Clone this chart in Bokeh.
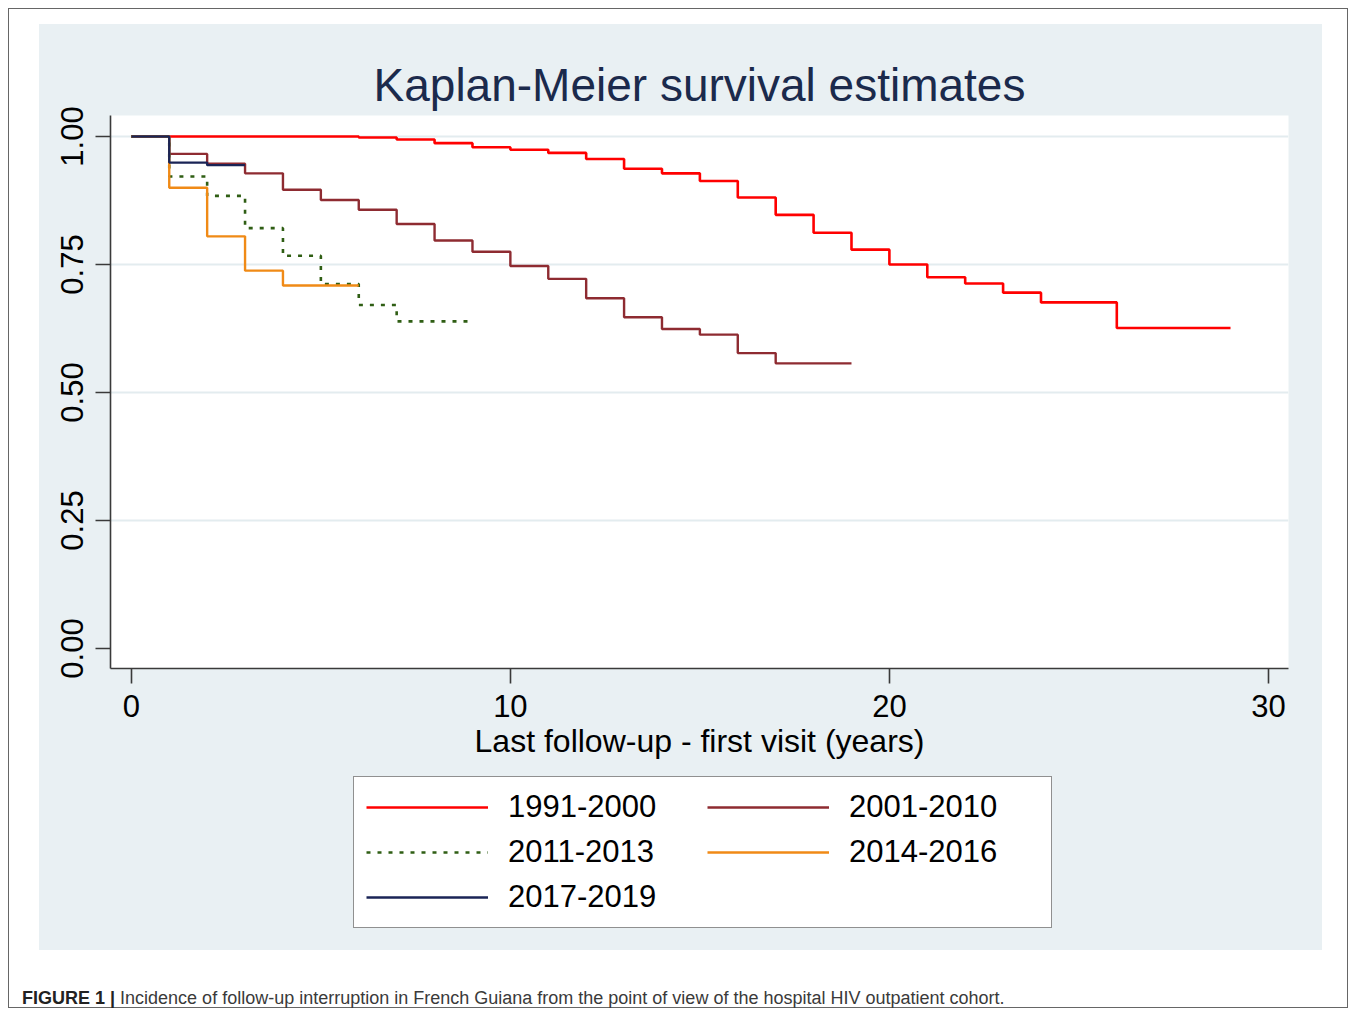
from bokeh.plotting import figure
from bokeh.models import (Range1d, FixedTicker, Legend, LegendItem, Div,
                          NumeralTickFormatter)
from bokeh.layouts import column
from bokeh.embed import file_html
from bokeh.resources import INLINE

# ---- data ----
t_1991_2000 = [0, 6, 7, 8, 9, 10, 11, 12, 13, 14, 15, 16, 17, 18, 19, 20, 21, 22, 23, 24, 26, 29]
s_1991_2000 = [1.0, 0.998, 0.994, 0.987, 0.979, 0.974, 0.968, 0.956, 0.937, 0.928, 0.913,
               0.881, 0.847, 0.812, 0.779, 0.750, 0.725, 0.713, 0.695, 0.676, 0.626, 0.626]

t_2001_2010 = [0, 1, 2, 3, 4, 5, 6, 7, 8, 9, 10, 11, 12, 13, 14, 15, 16, 17, 19]
s_2001_2010 = [1.0, 0.966, 0.947, 0.928, 0.896, 0.876, 0.857, 0.829, 0.797, 0.775,
               0.747, 0.722, 0.684, 0.647, 0.624, 0.613, 0.577, 0.557, 0.557]

t_2011_2013 = [0, 1, 2, 3, 4, 5, 6, 7, 9]
s_2011_2013 = [1.0, 0.922, 0.884, 0.821, 0.767, 0.712, 0.671, 0.639, 0.639]

t_2014_2016 = [0, 1, 2, 3, 4, 6]
s_2014_2016 = [1.0, 0.900, 0.805, 0.738, 0.709, 0.709]

t_2017_2019 = [0, 1, 2, 3]
s_2017_2019 = [1.0, 0.949, 0.944, 0.944]

labels = ["1991-2000", "2001-2010", "2011-2013", "2014-2016", "2017-2019"]
x_ticks = [0, 10, 20, 30]
y_ticks = [0.0, 0.25, 0.50, 0.75, 1.00]
grid_ticks = [0.25, 0.50, 0.75, 1.00]

FONT = "Liberation Sans"
PANEL = "#e9f0f3"

styles = [
    dict(line_color="#ff0000", line_width=2.6),
    dict(line_color="#8e2b31", line_width=2.4),
    dict(line_color="#2f5e14", line_width=2.6, line_dash="4 7"),
    dict(line_color="#f08a16", line_width=2.4),
    dict(line_color="#1a2456", line_width=2.4),
]
series = [(t_1991_2000, s_1991_2000), (t_2001_2010, s_2001_2010),
          (t_2011_2013, s_2011_2013), (t_2014_2016, s_2014_2016),
          (t_2017_2019, s_2017_2019)]

p = figure(width=1283, height=752, output_backend="svg", toolbar_location=None,
           x_range=Range1d(-0.55, 30.53), y_range=Range1d(-0.039, 1.041),
           min_border_left=71, min_border_right=34, min_border_top=91,
           min_border_bottom=108,
           border_fill_color=PANEL, background_fill_color="white",
           outline_line_color=None,
           title="Kaplan-Meier survival estimates")
p.title.text_font = FONT
p.title.text_font_size = "46px"
p.title.text_font_style = "normal"
p.title.text_color = "#1b2a4c"
p.title.align = "center"

# axes
for ax in (p.xaxis[0], p.yaxis[0]):
    ax.axis_line_color = "#3a3a3a"
    ax.axis_line_width = 1.6
    ax.major_tick_line_color = "#3a3a3a"
    ax.major_tick_line_width = 1.6
    ax.major_tick_in = 0
    ax.major_tick_out = 15
    ax.minor_tick_line_color = None
    ax.major_label_text_font = FONT
    ax.major_label_text_font_size = "31px"
    ax.major_label_text_color = "black"
    ax.axis_label_text_font = FONT
    ax.axis_label_text_font_style = "normal"
    ax.axis_label_text_color = "black"

p.xaxis.ticker = FixedTicker(ticks=x_ticks)
p.yaxis.ticker = FixedTicker(ticks=y_ticks)
p.yaxis.formatter = NumeralTickFormatter(format="0.00")
p.yaxis.major_label_orientation = "vertical"
p.xaxis.major_label_standoff = 11
p.yaxis.major_label_standoff = 12
p.xaxis.axis_label = "Last follow-up - first visit (years)"
p.xaxis.axis_label_text_font_size = "32px"
p.xaxis.axis_label_standoff = 3

p.xgrid.grid_line_color = None
p.ygrid.ticker = FixedTicker(ticks=grid_ticks)
p.ygrid.grid_line_color = "#e3ecef"
p.ygrid.grid_line_width = 1.8

for (t, s), st in zip(series, styles):
    p.step(t, s, mode="after", **st)

# legend strip: second figure that continues the grey background.
# Its key renderers use the same series but lie outside this strip's ranges.
lg = figure(width=1283, height=174, output_backend="svg", toolbar_location=None,
            x_range=Range1d(100, 101), y_range=Range1d(100, 101),
            x_axis_location=None, y_axis_location=None,
            min_border_left=71, min_border_right=34, min_border_top=0,
            min_border_bottom=0,
            border_fill_color=PANEL, background_fill_color=None,
            outline_line_color=None)
lg.xgrid.grid_line_color = None
lg.ygrid.grid_line_color = None
keys = [lg.step(t, s, mode="after", **st) for (t, s), st in zip(series, styles)]

legend = Legend(items=[LegendItem(label=lab, renderers=[k]) for lab, k in zip(labels, keys)],
                location=(243, 22), orientation="horizontal", ncols=2)
legend.glyph_width = 122
legend.glyph_height = 34
legend.label_height = 34
legend.label_width = 190
legend.label_standoff = 20
legend.spacing = 9
legend.padding = 12
legend.margin = 0
legend.label_text_font = FONT
legend.label_text_font_size = "31px"
legend.label_text_color = "black"
legend.border_line_color = "#222222"
legend.border_line_width = 1.5
legend.background_fill_color = "white"
legend.background_fill_alpha = 1.0
lg.add_layout(legend, "center")

panel = column(p, lg, width=1283, height=926, margin=(15, 0, 0, 30),
               styles={"background-color": PANEL})

caption = Div(text='<span style="font-weight:bold;color:#222">FIGURE 1 |</span> '
                   'Incidence of follow-up interruption in French Guiana from the point of view '
                   'of the hospital HIV outpatient cohort.',
              width=1300, height=24, margin=(36, 0, 0, 13),
              styles={"font-family": "'Liberation Sans', Arial, sans-serif",
                      "font-size": "18px", "color": "#3a3a3a", "white-space": "nowrap"})

lay = column(panel, caption, width=1340, height=1000,
             styles={"border": "1px solid #666666", "background-color": "white"})
lay.margin = (8, 0, 0, 8)

open("out.html", "w").write(file_html(lay, INLINE))
